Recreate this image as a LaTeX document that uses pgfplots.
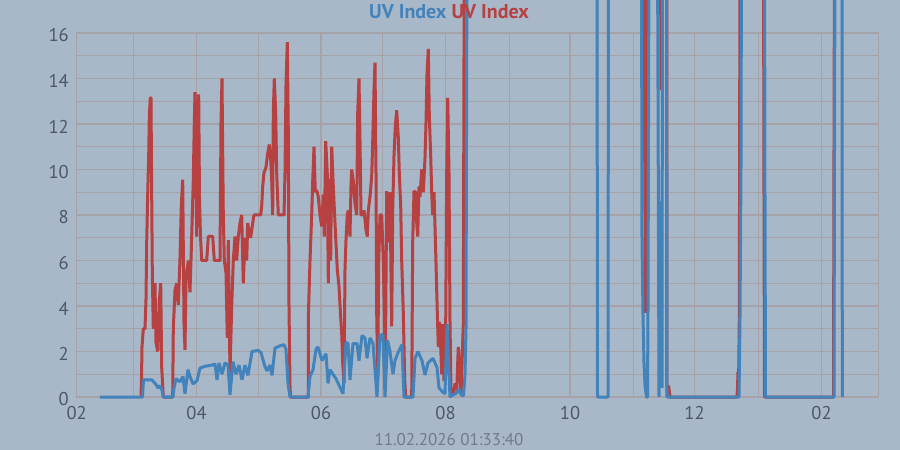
\documentclass[border=0pt]{standalone}
\usepackage{pgfplots}
\pgfplotsset{compat=1.18}
\usepackage{fontspec}
\setmainfont{PT Sans}
\definecolor{bgc}{RGB}{168,184,200}
\definecolor{gridc}{RGB}{166,162,168}
\definecolor{uvblue}{RGB}{66,131,187}
\definecolor{uvred}{RGB}{183,64,64}
\definecolor{tickc}{RGB}{74,88,104}
\definecolor{stampc}{RGB}{112,122,136}

\begin{document}
\begin{tikzpicture}
\fill[bgc] (-76.7pt,-53pt) rectangle (823.3pt,397pt);
\useasboundingbox (-76.7pt,-53pt) rectangle (823.3pt,397pt);
\clip (-76.7pt,-53pt) rectangle (823.3pt,397pt);
\begin{axis}[
  scale only axis, width=801.6pt, height=364pt,
  at={(0,0)}, anchor=south west,
  xmin=76.7, xmax=878.3, ymin=0, ymax=16,
  clip=false,
  xtick={76.7,196.5,321,445.5,570,694.5,821.5},
  xticklabels={02,04,06,08,10,12,02},
  minor xtick={133.3,258.3,382.7,509.3,633.3,758.3},
  ytick={0,2,...,16}, minor ytick={1,3,...,15},
  grid=both,
  major grid style={gridc, line width=1.2pt},
  minor grid style={gridc, line width=1.2pt},
  axis line style={gridc, line width=1.2pt},
  tick style={draw=none},
  ticklabel style={font=\fontsize{18.5}{20}\selectfont, text=tickc},
  yticklabel style={anchor=east, inner sep=0pt, xshift=-7.7pt, yshift=-2.5pt},
  xticklabel style={anchor=north, inner sep=0pt, yshift=-9pt},
  /pgf/number format/assume math mode=true,
]
% red series
\addplot[uvred, line width=3pt, line join=bevel] coordinates {
(141,0) (141.5,0.75) (142,2.2) (143.3,3.0) (145,3.0) (146,4.3) (146.7,6.8) (147.7,8.9) (148.7,10.6) (149.3,12.3) (150.3,13.15) (151,13.15) (151.7,8.9) (152.3,5.5) (153.3,3.0) (155,5.0) (156,2.4) (157.7,2.0) (159.3,4.2) (160.7,5.0) (161.7,1.3) (163.3,0)
(172.7,0) (173.3,3.0) (175,4.7) (176.7,5.0) (178.3,4.05) (180,6.1) (181.3,8.4) (182.7,9.55) (184,3.25) (185,2.07) (186,5.15) (188.3,6.0) (190,4.6) (191.7,7.05) (193.3,9.55) (194.3,12.05) (195,13.4) (196.7,7.05) (197.3,11.75) (198.7,13.3) (199.5,8.7) (200.5,7.06) (201.7,6.0) (206.7,6.0) (208.3,7.06) (212.7,7.06) (214.3,6.0) (220,6.0) (221,12.05) (222,14.0) (223.3,8.0) (224.3,6.0) (226,5.45) (227.3,2.6) (228.3,6.9) (230,1.05) (231.7,4.0) (233.3,6.0) (235,7.06) (236.7,6.0) (238.3,7.06) (240,7.65) (241.7,8.0) (243.3,5.0) (245,7.0) (246.7,6.0) (247.7,7.65) (249.3,7.2) (250.7,7.0) (252.7,7.65) (254,8.0) (260.7,8.0) (261.7,8.4) (262.7,9.25) (264,9.85) (266,10.1) (267.7,10.7) (269.3,11.1) (270.7,10.45) (271.7,9.55) (272.7,8.0) (273.3,12.5) (274.3,14.0) (275.7,12.5) (276.7,9.85) (278.3,8.0) (284,8.0) (285,9.85) (286,13.7) (287.3,15.6) (288.3,11.7) (289,4.0) (290,0.5) (290.5,0)
(308.3,0) (308.5,3.75) (310,6.0) (311.7,8.0) (312.7,9.5) (314,11.0) (315.3,9.0) (316.7,9.1) (318.3,8.8) (320,8.0) (321.7,7.5) (323.3,8.9) (324.3,7.05) (325.7,11.25) (327.3,9.8) (328.3,5.0) (329.3,9.6) (330.7,6.0) (331.7,11.0) (333.3,9.25) (334.3,8.3) (335.7,7.0) (337.3,5.6) (339,4.85) (340.7,3.5) (341.7,2.8) (342.7,1.5) (344,0.6) (345,5.6) (346,6.9) (347.3,8.0) (348.3,8.2) (350,7.05) (351,9.3) (351.7,10.0) (353.3,9.5) (355,8.5) (356.7,8.0) (357.7,12.5) (359,14.0) (360,11.3) (361,8.0) (362.7,8.0) (364,8.2) (365,7.8) (366,7.35) (367.3,7.05) (368.3,8.2) (370,8.8) (371.7,9.7) (372.7,11.2) (374,13.5) (375,14.7) (376,9.85) (376.7,3.7) (377.7,0.75) (378.7,5.9) (380,8.0) (381.7,8.0) (383.3,6.0) (384.3,3.7) (385.3,1.0) (386.7,9.05) (388.3,6.8) (390,9.0) (391.7,3.1) (392.7,8.2) (394,10.6) (395.3,11.9) (396.7,12.6) (398.3,11.4) (399.3,9.85) (400.7,8.4) (401.7,6.0) (403.3,3.7) (404.7,0.75) (405.7,0)
(411.7,0) (412.7,6.8) (414,9.05) (415.7,9.0) (416.7,7.65) (417.7,7.05) (419,9.25) (420,8.8) (421.7,10.0) (423.3,9.0) (425,10.5) (426,12.05) (427,14.2) (428.3,15.3) (429.3,12.4) (430.7,10.6) (431.7,9.0) (432.7,8.0) (434,9.0) (435,7.5) (436,5.9) (437.3,3.7) (438.3,2.2) (439.3,3.3) (440.7,2.2) (441.7,1.0) (442.7,3.2) (444,0.7) (445.7,3.2) (446.7,9.85) (447.7,13.15) (449,9.85) (450,3.3) (451,0.3) (453.3,0.1) (455,0.6) (456.7,0.3) (458.3,2.2) (459.3,1.6) (461,0.1) (463.3,3.2) (464.3,20)
(644,20) (644.5,12.5) (645.5,3.7) (646.5,20) (660.5,20) (661,13.5) (662,20) (666.8,20) (667,0) (668.5,0.5) (669.5,0.2) (670,0)
(737,0) (737.5,0.4) (738,1.1) (738.5,0.3) (739.3,3.5) (740,20) (763.5,20) (764,8.75) (764.5,0) (833.5,0) (834,11.0) (834.5,20)
};
% blue series
\addplot[uvblue, line width=3pt, line join=bevel] coordinates {
(100,0) (142.5,0) (143.5,0.75) (152,0.75) (156,0.55) (158,0.4) (160,0.5) (162,0.3) (163.5,0) (173,0) (174,0.4) (176,0.8) (180,0.67) (183,0.9) (185,0.15) (188,1.2) (190,0.9) (193,0.57) (197,0.72) (200,1.27) (205,1.35) (212,1.4) (215,1.45) (217,0.75) (219,1.5) (222,1.0) (225,1.5) (228,1.4) (230,0.1) (233,1.55) (236,1.0) (239,1.4) (242,0.75) (245,1.4) (248,0.95) (252,2.0) (258,2.05) (261,1.95) (265,1.33) (267,1.15) (270,1.4) (272,0.95) (275,2.15) (280,2.25) (284,2.3) (286,2.1) (288,0.6) (290,0)
(308,0) (310,0.9) (313,1.2) (316,2.1) (318,2.2) (322,1.6) (326,1.9) (328,0.6) (330,1.2) (333,1.0) (336,0.8) (343,0.15) (346,2.4) (348,2.35) (350,0.75) (353,2.35) (357,2.35) (359,1.6) (362,2.7) (365,2.6) (367,1.7) (370,2.6) (373,2.35) (375,1.2) (377,0) (380,2.7) (383,2.75) (385,0) (387.5,2.5) (390,2.0) (393,1.0) (395,1.6) (398,1.95) (402,2.3) (404,0)
(413,0) (415,1.7) (418,2.0) (422,1.6) (425,0.97) (428,1.5) (433,1.7) (437,1.3) (439,0.4) (443,0.2) (445,0.15) (447,3.2) (449,1.0) (450,0) (453,0.1) (456,0.15) (459,0.35) (461,0.1) (463.5,0.05) (465,1.0) (466,3.0) (467,20)
(597,20) (597.5,0) (608,0) (608.5,20) (641.5,20) (642,6.9) (643,3.6) (644,1.5) (645,0.5) (646.5,0) (647.5,0) (648,3.8) (649,20) (657.5,20) (658,13.5) (659,0) (660.5,8.6) (661,2.2) (662,0.4) (662.5,20) (666.5,20) (667,0)
(739,0) (740,3.5) (741,10.1) (741.5,20) (764.5,20) (765,8.75) (765.5,0) (834,0) (834.5,11.0) (835,20) (842,20) (842.3,0)
};
\end{axis}
\node[anchor=base, font=\bfseries\fontsize{20}{22}\selectfont] at (372.3pt,378.7pt)
  {\textcolor{uvblue}{UV Index} \textcolor{uvred}{UV Index}};
\node[anchor=base, font=\fontsize{17}{20}\selectfont, text=stampc] at (372.3pt,-48pt)
  {11.02.2026 01:33:40};
\end{tikzpicture}
\end{document}
